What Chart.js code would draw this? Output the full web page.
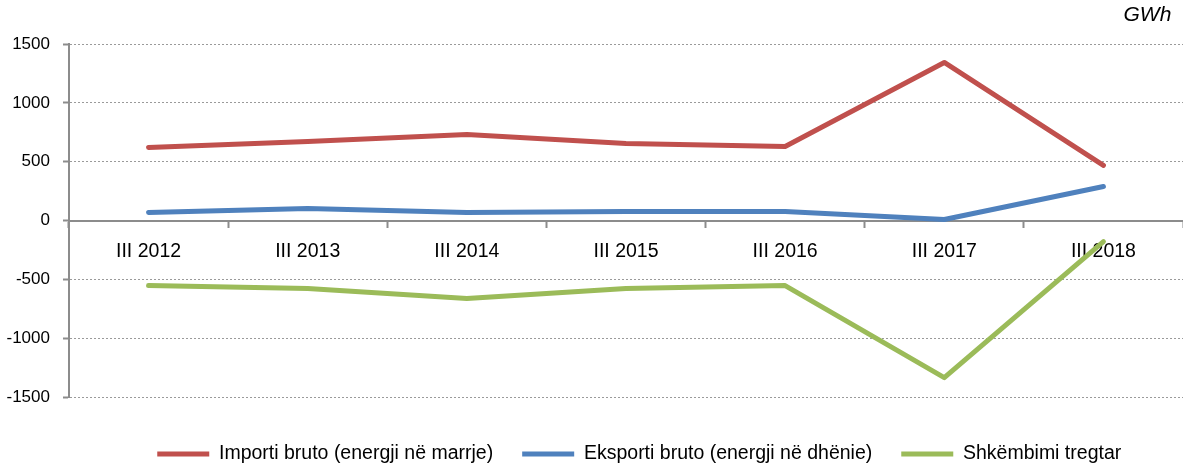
<!DOCTYPE html>
<html>
<head>
<meta charset="utf-8">
<script src="https://cdn.jsdelivr.net/npm/chart.js@4/dist/chart.umd.min.js"></script>
<style>
  html, body { margin: 0; padding: 0; background: #ffffff; }
  #wrap { width: 1183px; height: 468px; }
</style>
</head>
<body>
<div id="wrap"><canvas id="c" width="1183" height="468"></canvas></div>
<script>
const categories = ['III 2012', 'III 2013', 'III 2014', 'III 2015', 'III 2016', 'III 2017', 'III 2018'];
const importValues = [621, 672, 731, 655, 629, 1343, 468];
const exportValues = [68, 102, 68, 77, 77, 8, 289];
const exchangeValues = [-553, -578, -663, -578, -553, -1335, -179];
const seriesNames = ['Importi bruto (energji në marrje)', 'Eksporti bruto (energji në dhënie)', 'Shkëmbimi tregtar'];
const unitLabel = 'GWh';

Chart.defaults.font.family = "'Liberation Sans', Arial, sans-serif";
Chart.defaults.font.size = 17;
Chart.defaults.color = '#000000';

const axisColor = '#8c8c8c';
const gridColor = '#9a9a9a';

function ds(label, data, color) {
  return {
    label, data,
    borderColor: color,
    backgroundColor: color,
    borderWidth: 5,
    borderCapStyle: 'round',
    borderJoinStyle: 'round',
    pointRadius: 0,
    pointHoverRadius: 0,
    tension: 0,
    fill: false
  };
}

const legendShift = {
  id: 'legendShift',
  afterLayout(chart) {
    if (chart.legend) { chart.legend.left += 26.5; }
  }
};

new Chart(document.getElementById('c'), {
  type: 'line',
  data: {
    labels: categories,
    datasets: [
      ds(seriesNames[0], importValues, '#C0504D'),
      ds(seriesNames[1], exportValues, '#4F81BD'),
      ds(seriesNames[2], exchangeValues, '#9BBB59')
    ]
  },
  plugins: [legendShift],
  options: {
    responsive: false,
    animation: false,
    devicePixelRatio: 1,
    layout: { padding: { left: -6.5, right: 0, top: 0, bottom: -5.75 } },
    plugins: {
      tooltip: { enabled: false },
      title: {
        display: true,
        text: unitLabel + '  ',
        align: 'end',
        font: { size: 21, style: 'italic', weight: 'normal' },
        color: '#000000',
        padding: { top: 2.4, bottom: 16.4 }
      },
      legend: {
        position: 'bottom',
        fullSize: false,
        align: 'center',
        title: { display: true, text: '', font: { size: 10, lineHeight: 1 }, padding: { top: 0, bottom: 8.25 } },
        labels: {
          usePointStyle: true,
          pointStyle: 'line',
          pointStyleWidth: 52,
          padding: 29,
          color: '#000000',
          font: { size: 19.5, lineHeight: 1 }
        }
      }
    },
    scales: {
      x: {
        type: 'category',
        position: { y: 0 },
        offset: true,
        grid: {
          display: true,
          offset: true,
          drawOnChartArea: false,
          drawTicks: true,
          tickLength: 6,
          tickColor: axisColor,
          tickWidth: 2
        },
        border: { display: true, color: axisColor, width: 2 },
        ticks: { color: '#000000', padding: 13, maxRotation: 0, font: { size: 19.5 } }
      },
      y: {
        min: -1500,
        max: 1500,
        grid: {
          color: gridColor,
          lineWidth: 1,
          drawTicks: true,
          tickLength: 6,
          tickColor: axisColor,
          tickWidth: 2,
          tickBorderDash: []
        },
        border: { display: true, color: axisColor, width: 2, dash: [2, 2] },
        ticks: {
          stepSize: 500,
          padding: 13,
          color: '#000000',
          font: { size: 17 },
          callback: (v) => String(v)
        }
      }
    }
  }
});
</script>
</body>
</html>
